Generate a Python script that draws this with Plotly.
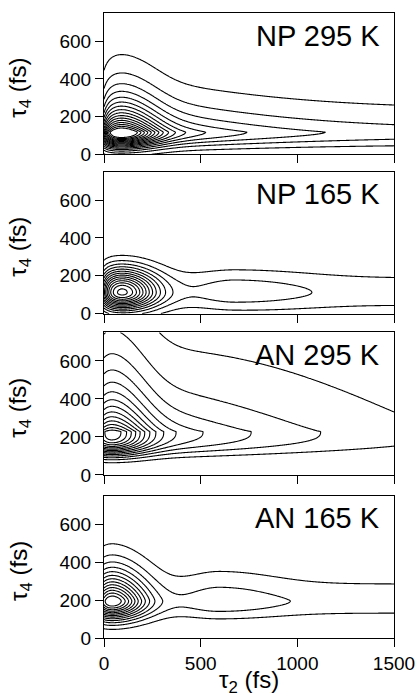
import numpy as np
import plotly.graph_objects as go
from plotly.subplots import make_subplots

# Panel labels (sample, temperature)
PANELS = ["NP 295 K", "NP 165 K", "AN 295 K", "AN 165 K"]

# Axis ticks
T2_TICKS = [0, 500, 1000, 1500]
T4_TICKS = [0, 200, 400, 600]

# Signal model parameters per panel (amplitudes in contour-level units, times in fs)
SLOW_FLOOR = [2.2, 1.5, 0.1, 1.6]
SLOW_AMP = [7.9, 0.4, 7.1, 0.3]
SLOW_TAU = [500, 500, 850, 600]
FAST_AMP = [10.5, 13.0, 8.3, 13.0]
FAST_T2 = [80, 80, 30, 20]
FAST_WIDTH = [190, 180, 190, 182]
BUMP_AMP = [0.0, 1.1, 0.0, 1.15]
BUMP_T2 = [700, 680, 600, 600]
BUMP_W_LEFT = [200, 200, 200, 180]
BUMP_W_RIGHT = [420, 420, 420, 330]
RISE_DEPTH = [0.45, 0.4, 0.1, 0.15]
RISE_TAU = [35, 35, 30, 30]
RIDGE_T4 = [118, 112, 228, 195]
UP_W0 = [140, 120, 236, 150]
UP_SLOPE = [0.007, 0.0, 0.19, 0.0]
UP_ONSET = [0, 0, 263, 0]
UP_POW = [1.0, 2.0, 0.85, 1.4]
DOWN_W0 = [75, 85, 118, 92]
DOWN_SLOPE = [0.0, 0.013, 0.0, 0.0]
DOWN_POW = [2.0, 2.0, 3.0, 2.0]
TOP_LEVEL = [16, 14, 14, 13]

t2 = np.arange(0, 1501, 5.0)
t4 = np.arange(0, 751, 3.0)
T4 = t4[:, None]


def soft_ramp(x, s=80.0):
    return s * np.logaddexp(0.0, x / s)


def surface(i):
    wb = np.where(t2 < BUMP_T2[i], BUMP_W_LEFT[i], BUMP_W_RIGHT[i])
    amp = (SLOW_FLOOR[i]
           + SLOW_AMP[i] * np.exp(-t2 / SLOW_TAU[i])
           + FAST_AMP[i] * np.exp(-((t2 - FAST_T2[i]) / FAST_WIDTH[i]) ** 2)
           + BUMP_AMP[i] * np.exp(-((t2 - BUMP_T2[i]) / wb) ** 2))
    amp = amp * (1 - RISE_DEPTH[i] * np.exp(-t2 / RISE_TAU[i]))
    if UP_ONSET[i] > 0:
        up = UP_W0[i] + UP_SLOPE[i] * soft_ramp(t2 - UP_ONSET[i])
    else:
        up = UP_W0[i] + UP_SLOPE[i] * t2
    down = DOWN_W0[i] + DOWN_SLOPE[i] * t2
    d = T4 - RIDGE_T4[i]
    prof = np.where(d >= 0,
                    np.exp(-(np.abs(d) / up[None, :]) ** UP_POW[i]),
                    np.exp(-(np.abs(d) / down[None, :]) ** DOWN_POW[i]))
    return amp[None, :] * prof


FONT = "Liberation Sans, Arial, Helvetica, sans-serif"

fig = make_subplots(rows=4, cols=1)

for i, name in enumerate(PANELS):
    fig.add_trace(go.Contour(
        x=t2, y=t4, z=surface(i),
        contours=dict(start=1, end=TOP_LEVEL[i], size=1, coloring="lines"),
        colorscale=[[0, "black"], [1, "black"]],
        line=dict(width=1.1, smoothing=1),
        showscale=False, hoverinfo="skip",
    ), row=i + 1, col=1)

domains = [[0.774, 1.0], [0.519, 0.746], [0.261, 0.489], [0.0, 0.228]]
for i in range(4):
    xa = "xaxis" if i == 0 else f"xaxis{i + 1}"
    ya = "yaxis" if i == 0 else f"yaxis{i + 1}"
    fig.layout[xa].update(
        domain=[0, 1], range=[0, 1500], tickvals=T2_TICKS, showticklabels=(i == 3),
        ticks="outside", ticklen=8, tickwidth=1, tickcolor="black",
        showline=True, mirror=True, linecolor="black", linewidth=1.2,
        showgrid=False, zeroline=False, automargin=False,
        tickfont=dict(family=FONT, size=19, color="black"),
    )
    fig.layout[ya].update(
        domain=domains[i], range=[0, 750], tickvals=T4_TICKS,
        ticks="outside", ticklen=8, tickwidth=1, tickcolor="black",
        showline=True, mirror=True, linecolor="black", linewidth=1.2,
        showgrid=False, zeroline=False, automargin=False,
        tickfont=dict(family=FONT, size=19, color="black"),
    )
    xr = "x" if i == 0 else f"x{i + 1}"
    yr = "y" if i == 0 else f"y{i + 1}"
    fig.add_annotation(
        text=PANELS[i], xref=f"{xr} domain", yref=f"{yr} domain",
        x=0.96, y=0.84, xanchor="right", yanchor="middle", showarrow=False,
        font=dict(family=FONT, size=29, color="black"),
    )
    fig.add_annotation(
        text="τ<sub>4</sub> (fs)", xref="paper", yref=f"{yr} domain",
        x=-0.29, y=0.47, xanchor="center", yanchor="middle", textangle=-90,
        showarrow=False, font=dict(family=FONT, size=24, color="black"),
    )

fig.add_annotation(
    text="τ<sub>2</sub> (fs)", xref="paper", yref="paper",
    x=0.5, y=-0.07, xanchor="center", yanchor="middle", showarrow=False,
    font=dict(family=FONT, size=24, color="black"),
)

fig.update_layout(
    width=418, height=698,
    margin=dict(l=104, r=24, t=13, b=60, autoexpand=False),
    plot_bgcolor="white", paper_bgcolor="white",
    showlegend=False,
    font=dict(family=FONT, color="black"),
)

fig.write_html("out.html")
